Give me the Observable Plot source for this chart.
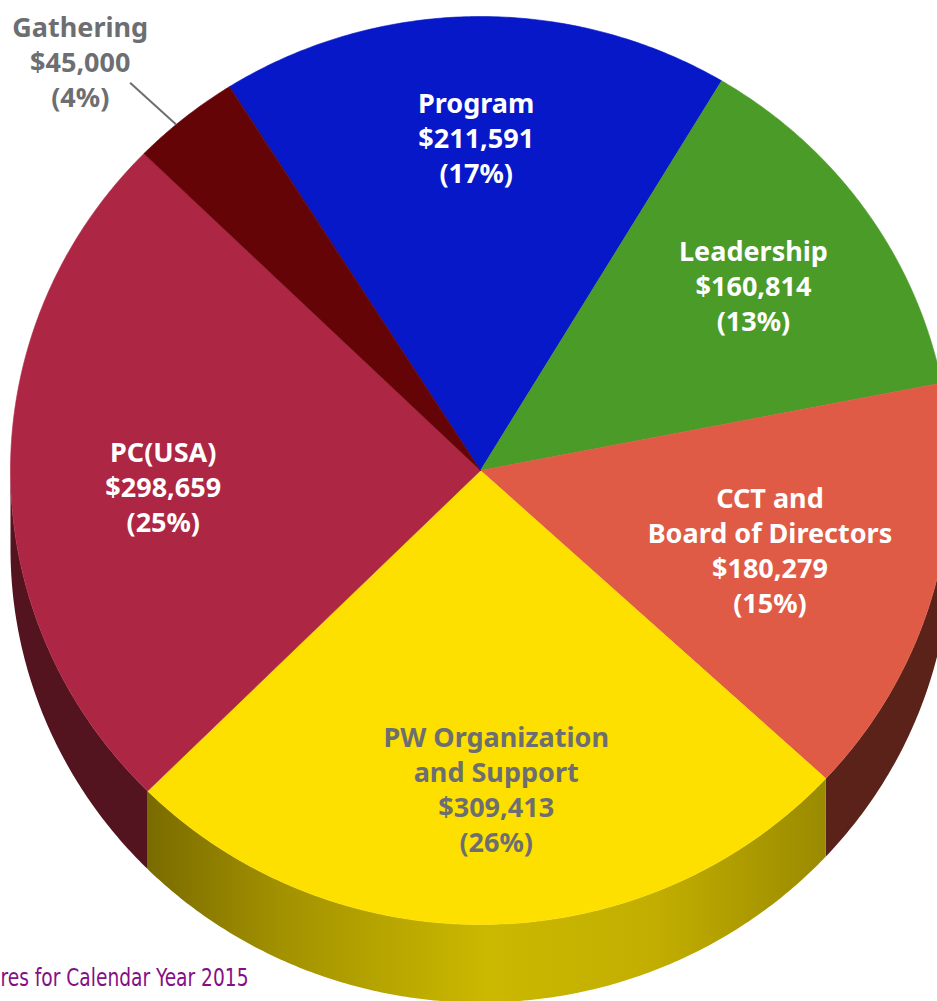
<!DOCTYPE html>
<html>
<head>
<meta charset="utf-8">
<script src="https://cdn.jsdelivr.net/npm/d3@7"></script>
<script src="https://cdn.jsdelivr.net/npm/@observablehq/plot@0.6"></script>
<style>
  html, body { margin: 0; padding: 0; background: #fff; }
  #chart svg { display: block; }
</style>
</head>
<body>
<div id="chart"></div>
<script>
// ---- Data ----
const categories = ["Program", "Leadership", "CCT and\nBoard of Directors", "PW Organization\nand Support", "PC(USA)", "Gathering"];
const amounts = [211591, 160814, 180279, 309413, 298659, 45000];
const percentLabels = ["17%", "13%", "15%", "26%", "25%", "4%"];
const topColors = ["#0618c8", "#4b9b28", "#e05b46", "#fde000", "#ad2643", "#640406"];
const sideColors = ["#000a70", "#2a5a14", "#5a2218", "url(#yellowSide)", "#531420", "#3a0203"];
const labelColors = ["#ffffff", "#ffffff", "#ffffff", "#6d6e71", "#ffffff", "#6d6e71"];
const caption = "res for Calendar Year 2015";

// ---- Geometry (unit ellipse, y up) ----
const deg = Math.PI / 180;
const startAngle = -32.3 * deg;
const depth = 0.172; // pie thickness in y units

const arcs = d3.pie().sort(null).value(d => d)
  .startAngle(startAngle).endAngle(startAngle + 2 * Math.PI)(amounts);

function arcPoints(a0, a1) {
  const n = Math.max(2, Math.ceil((a1 - a0) / (0.5 * deg)));
  return d3.range(n + 1).map(i => a0 + (a1 - a0) * i / n);
}

// top faces
const topPts = [];
arcs.forEach((a, i) => {
  topPts.push({k: i, x: 0, y: 0});
  arcPoints(a.startAngle, a.endAngle).forEach(t => topPts.push({k: i, x: Math.sin(t), y: Math.cos(t)}));
});

// side faces (front half only: 90°..270°)
const sidePts = [];
arcs.forEach((a, i) => {
  const s = Math.max(a.startAngle, 90 * deg), e = Math.min(a.endAngle, 270 * deg);
  if (e <= s) return;
  const ts = arcPoints(s, e);
  ts.forEach(t => sidePts.push({k: i, x: Math.sin(t), y: Math.cos(t)}));
  ts.slice().reverse().forEach(t => sidePts.push({k: i, x: Math.sin(t), y: Math.cos(t) - depth}));
});

// labels
const labelR = [0.735, 0.71, 0.64, 0.70, 0.675, 0];
const labelShift = [[0, 0], [0, 0], [0, 0], [0.02, 0], [0, -0.03], [0, 0]];
const labels = arcs.map((a, i) => {
  const m = (a.startAngle + a.endAngle) / 2;
  return {
    i,
    x: Math.sin(m) * labelR[i] + labelShift[i][0],
    y: Math.cos(m) * labelR[i] + labelShift[i][1],
    text: `${categories[i]}\n$${amounts[i].toLocaleString("en-US")}\n(${percentLabels[i]})`
  };
});
const inside = labels.slice(0, 5);

// Gathering: outside label with leader line
const g = arcs[5];
const gm = g.startAngle + 0.4 * (g.endAngle - g.startAngle);
const gEnd = {x: Math.sin(gm), y: Math.cos(gm)};
const gStart = {x: gEnd.x - 0.098, y: gEnd.y + 0.092};
const gLabel = [{x: gStart.x - 0.106, y: gStart.y + 0.048, text: labels[5].text}];

const font = "'Noto Sans', 'Open Sans', sans-serif";

const plot = Plot.plot({
  width: 937,
  height: 1001,
  margin: 0,
  x: {domain: [-1, 1], range: [10, 950], axis: null},
  y: {domain: [-1, 1], range: [924, 16], axis: null},
  style: {background: "#fff"},
  marks: [
    ...sideColors.map((c, i) => Plot.line(sidePts.filter(d => d.k === i), {x: "x", y: "y", fill: c, stroke: "none", curve: "linear-closed"})),
    ...topColors.map((c, i) => Plot.line(topPts.filter(d => d.k === i), {x: "x", y: "y", fill: c, stroke: c, strokeWidth: 0.6, curve: "linear-closed"})),
    Plot.text(inside, {
      x: "x", y: "y", text: "text",
      fill: d => labelColors[d.i],
      fontSize: 27, fontWeight: 700, lineHeight: 1.3,
      fontFamily: font,
      lineAnchor: "middle", textAnchor: "middle"
    }),
    Plot.link([{x1: gStart.x, y1: gStart.y, x2: gEnd.x, y2: gEnd.y}], {x1: "x1", y1: "y1", x2: "x2", y2: "y2", stroke: "#6d6e71", strokeWidth: 2}),
    Plot.text(gLabel, {
      x: "x", y: "y", text: "text", fill: "#6d6e71",
      fontSize: 27, fontWeight: 700, lineHeight: 1.3,
      fontFamily: font,
      lineAnchor: "middle", textAnchor: "middle"
    }),
    Plot.text([caption], {
      frameAnchor: "bottom-left", text: d => d, dx: 0, dy: -16,
      fill: "#850f85", fontSize: 25,
      fontFamily: "'Liberation Sans Narrow', 'DejaVu Sans Condensed', 'Roboto', sans-serif",
      textAnchor: "start", lineAnchor: "bottom",
      className: "caption-text"
    })
  ]
});

// gradient for the yellow side
const defs = d3.select(plot).insert("defs", ":first-child");
const grad = defs.append("linearGradient").attr("id", "yellowSide")
  .attr("x1", "0").attr("x2", "1").attr("y1", "0").attr("y2", "0");
[["0%", "#7a6b00"], ["20%", "#a39200"], ["50%", "#cbb800"], ["75%", "#c2ae00"], ["100%", "#9a8a00"]]
  .forEach(([o, c]) => grad.append("stop").attr("offset", o).attr("stop-color", c));

// condense the caption to the reference width
d3.select(plot).selectAll(".caption-text text")
  .attr("textLength", 248).attr("lengthAdjust", "spacingAndGlyphs");

document.getElementById("chart").appendChild(plot);
</script>
</body>
</html>
